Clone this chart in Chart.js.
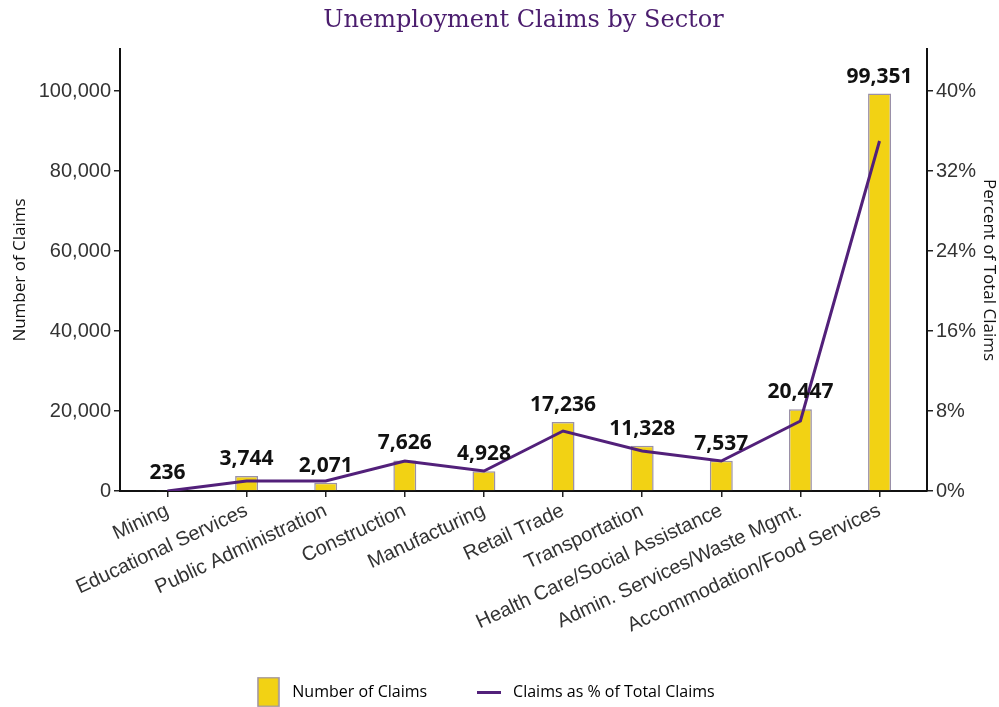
<!DOCTYPE html>
<html>
<head>
  <title>Unemployment Claims by Sector</title>
  <script src="https://cdn.jsdelivr.net/npm/chart.js"></script>
  <style>
    html, body { margin: 0; padding: 0; background: #ffffff; }
    #wrap { width: 999px; height: 707px; }
  </style>
</head>
<body>
  <div id="wrap"><canvas id="claimsChart"></canvas></div>
  <script>
    const sectors = ['Mining', 'Educational Services', 'Public Administration', 'Construction',
      'Manufacturing', 'Retail Trade', 'Transportation', 'Health Care/Social Assistance',
      'Admin. Services/Waste Mgmt.', 'Accommodation/Food Services'];
    const claims = [236, 3744, 2071, 7626, 4928, 17236, 11328, 7537, 20447, 99351];
    const claimsPct = [0, 1, 1, 3, 2, 6, 4, 3, 7, 35];
    const claimTicks = [0, 20000, 40000, 60000, 80000, 100000];
    const pctTicks = [0, 8, 16, 24, 32, 40];

    const barFill = '#f2d214';
    const barEdge = '#9a90a8';
    const lineColor = '#52207a';

    const tickFont = { family: '"Liberation Sans", Arial, sans-serif', size: 20 };
    const labelFont = { family: '"Open Sans", sans-serif', size: 17 };

    // legend symbols: tall yellow box and a short line
    const boxImg = document.createElement('canvas');
    boxImg.width = 23; boxImg.height = 31;
    (function () {
      const c = boxImg.getContext('2d');
      c.fillStyle = barFill;
      c.fillRect(1, 1, 21, 29);
      c.strokeStyle = barEdge;
      c.lineWidth = 1.5;
      c.strokeRect(1, 1, 21, 29);
    })();
    const lineImg = document.createElement('canvas');
    lineImg.width = 24; lineImg.height = 3;
    (function () {
      const c = lineImg.getContext('2d');
      c.fillStyle = lineColor;
      c.fillRect(0, 0, 24, 3);
    })();

    // bold value labels above the bars
    const barLabels = {
      id: 'barLabels',
      afterDatasetsDraw(chart) {
        const ctx = chart.ctx;
        const meta = chart.getDatasetMeta(0);
        ctx.save();
        ctx.font = 'bold 21px "Open Sans", sans-serif';
        ctx.fillStyle = '#111';
        ctx.textAlign = 'center';
        ctx.textBaseline = 'alphabetic';
        meta.data.forEach((bar, i) => {
          ctx.fillText(claims[i].toLocaleString('en-US'), bar.x, bar.y - 11);
        });
        ctx.restore();
      }
    };

    // title centred over the plot area
    const plotTitle = {
      id: 'plotTitle',
      afterDraw(chart) {
        const ctx = chart.ctx;
        const a = chart.chartArea;
        ctx.save();
        ctx.font = '24px "DejaVu Serif", serif';
        ctx.fillStyle = '#4b1d6e';
        ctx.textAlign = 'center';
        ctx.textBaseline = 'middle';
        ctx.fillText('Unemployment Claims by Sector', (a.left + a.right) / 2, 21);
        ctx.restore();
      }
    };

    new Chart(document.getElementById('claimsChart'), {
      data: {
        datasets: [
          {
            type: 'bar',
            label: 'Number of Claims',
            data: claims.map((v, i) => ({ x: i, y: v })),
            yAxisID: 'y',
            backgroundColor: barFill,
            borderColor: barEdge,
            borderWidth: 1.5,
            categoryPercentage: 1,
            barPercentage: 0.29,
            order: 2
          },
          {
            type: 'line',
            label: 'Claims as % of Total Claims',
            data: claimsPct.map((v, i) => ({ x: i, y: v })),
            yAxisID: 'y2',
            borderColor: lineColor,
            backgroundColor: lineColor,
            borderWidth: 3,
            pointRadius: 0,
            tension: 0,
            order: 1
          }
        ]
      },
      options: {
        responsive: true,
        maintainAspectRatio: false,
        animation: false,
        layout: { padding: { top: 49, left: 0, right: 0, bottom: -3 } },
        scales: {
          x: {
            type: 'linear',
            min: -0.6,
            max: sectors.length - 0.4,
            offset: false,
            grid: { display: true, drawOnChartArea: false, drawTicks: true, offset: false,
              tickLength: 6, color: '#222', lineWidth: 1.5 },
            border: { display: true, color: '#111', width: 2 },
            ticks: { font: tickFont, color: '#333', minRotation: 25, maxRotation: 25,
              autoSkip: false, padding: 2, callback: v => sectors[v] },
            afterBuildTicks(scale) { scale.ticks = sectors.map((s, i) => ({ value: i })); },
            afterFit(scale) { scale.height = 147; }
          },
          y: {
            position: 'left',
            min: 0,
            max: 110500,
            grid: { display: true, drawOnChartArea: false, drawTicks: true, tickLength: 6,
              color: '#222', lineWidth: 1.5 },
            border: { display: true, color: '#111', width: 2 },
            ticks: { font: tickFont, color: '#333', padding: 3,
              callback: v => v.toLocaleString('en-US') },
            afterBuildTicks(scale) { scale.ticks = claimTicks.map(v => ({ value: v })); },
            title: { display: true, text: 'Number of Claims', font: labelFont, color: '#111',
              padding: { top: 10, bottom: 0 } },
            afterFit(scale) { scale.width = 120; }
          },
          y2: {
            position: 'right',
            min: 0,
            max: 44.2,
            grid: { display: true, drawOnChartArea: false, drawTicks: true, tickLength: 6,
              color: '#222', lineWidth: 1.5 },
            border: { display: true, color: '#111', width: 2 },
            ticks: { font: tickFont, color: '#333', padding: 3, callback: v => v + '%' },
            afterBuildTicks(scale) { scale.ticks = pctTicks.map(v => ({ value: v })); },
            title: { display: true, text: 'Percent of Total Claims', font: labelFont, color: '#111',
              padding: { top: 0, bottom: 0 } },
            afterFit(scale) { scale.width = 72; }
          }
        },
        plugins: {
          title: { display: false },
          tooltip: { enabled: false },
          legend: {
            position: 'bottom',
            labels: {
              font: { family: '"Open Sans", sans-serif', size: 16 },
              color: '#111',
              usePointStyle: true,
              pointStyleWidth: 32,
              boxHeight: 16,
              padding: 46,
              generateLabels(chart) {
                return chart.data.datasets.map((ds, i) => ({
                  // trailing em spaces nudge the centred legend a little left
                  text: i === 1 ? ds.label + '\u2003\u2003' : ds.label,
                  fillStyle: ds.backgroundColor,
                  strokeStyle: ds.borderColor,
                  lineWidth: 0,
                  pointStyle: ds.type === 'bar' ? boxImg : lineImg,
                  datasetIndex: i,
                  hidden: false
                }));
              }
            }
          }
        }
      },
      plugins: [barLabels, plotTitle]
    });
  </script>
</body>
</html>
